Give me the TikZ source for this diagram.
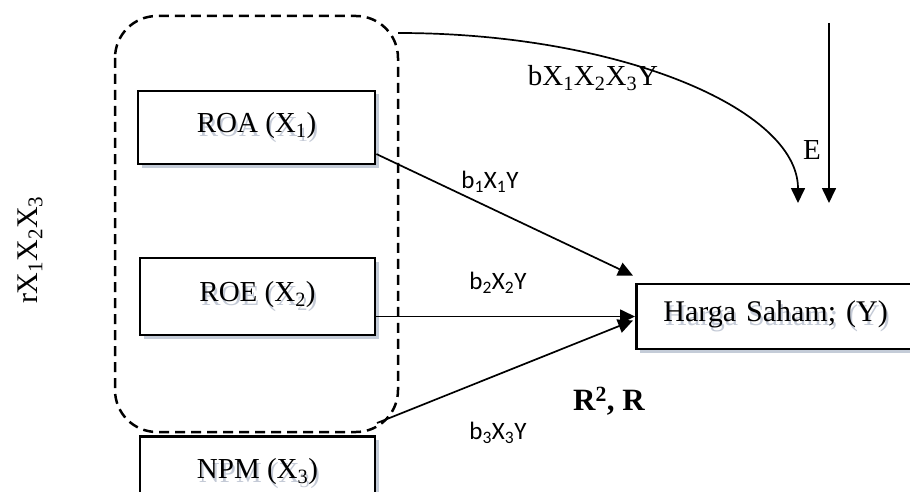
\documentclass[tikz,border=0pt]{standalone}
\usepackage{fontspec}
\setmainfont{Liberation Serif}
\newfontfamily\calibri{Carlito}
\usetikzlibrary{calc,arrows.meta,shadows}

\definecolor{txtshade}{RGB}{196,202,214}
\definecolor{boxshade}{RGB}{196,204,216}

% text with a soft copy below it
\newcommand{\shtext}[1]{\makebox[0pt][l]{\hspace{2pt}\raisebox{-4pt}{\color{txtshade}#1}}#1}

\begin{document}
\begin{tikzpicture}[x=1pt,y=-1pt,
  var/.style={draw,line width=2.8pt,fill=white,minimum width=237pt,minimum height=73pt,inner sep=0pt,
    font=\fontsize{29}{34}\selectfont,
    drop shadow={shadow xshift=3.5pt,shadow yshift=-3.5pt,fill=boxshade,opacity=1}},
  effect/.style={line width=1.7pt,-{Triangle[length=15pt,width=14pt]}},
  coef/.style={font=\calibri\fontsize{25}{30}\selectfont},
  lbl/.style={font=\fontsize{29}{34}\selectfont}]
  \useasboundingbox (0,0) rectangle (910,492);

  % kelompok variabel bebas
  \draw[line width=2.5pt,dash pattern=on 10pt off 6pt,rounded corners=42pt] (115,16) rectangle (398,432);
  \coordinate (grptop) at (398,33);
  \coordinate (grpbot) at (377,423);

  % variabel
  \node[var] (roa) at (256.5,127.5) {\shtext{ROA (X\textsubscript{1})}};
  \node[var,minimum width=235pt,minimum height=77pt] (roe) at (257.5,296.5) {\shtext{ROE (X\textsubscript{2})}};
  \node[var,minimum width=235pt,minimum height=75pt] (npm) at (257.5,474) {\shtext{NPM (X\textsubscript{3})}};
  \node[var,anchor=west,minimum height=65pt,text width=240pt,inner xsep=27pt,align=left,
    font=\fontsize{30}{34}\selectfont] (harga) at (635,316.5) {\shtext{Harga Saham; (Y)}};

  % jalur pengaruh
  \draw[effect] ($(roa.east)!0.7!(roa.south east)$) -- ($(harga.north west)+(-2,-7)$);
  \draw[effect] (roe.east |- harga.west) -- (harga.west);
  \draw[effect] (grpbot) -- ($(harga.west)+(-2,4)$);
  \coordinate (simul) at (798,203);
  \draw[effect] (grptop) .. controls (619,33) and (798,109) .. (simul);
  \coordinate (etop) at (829,23);
  \coordinate (ebot) at (829,203);
  \draw[effect] (etop) -- (ebot);

  % koefisien
  \node[coef] (b1) at (490,182) {b\textsubscript{1}X\textsubscript{1}Y};
  \node[coef] (b2) at (498,283) {b\textsubscript{2}X\textsubscript{2}Y};
  \node[coef] (b3) at (498,433) {b\textsubscript{3}X\textsubscript{3}Y};
  \node[lbl] (bx) at (593,78) {bX\textsubscript{1}X\textsubscript{2}X\textsubscript{3}Y};
  \node[lbl] (e) at (812,150) {E};
  \node[lbl,font=\bfseries\fontsize{31}{36}\selectfont] (r2) at (609,401) {R\textsuperscript{2}, R};
  \node[lbl,rotate=90,font=\fontsize{30}{34}\selectfont] (rx) at (30,250) {rX\textsubscript{1}X\textsubscript{2}X\textsubscript{3}};
\end{tikzpicture}
\end{document}
